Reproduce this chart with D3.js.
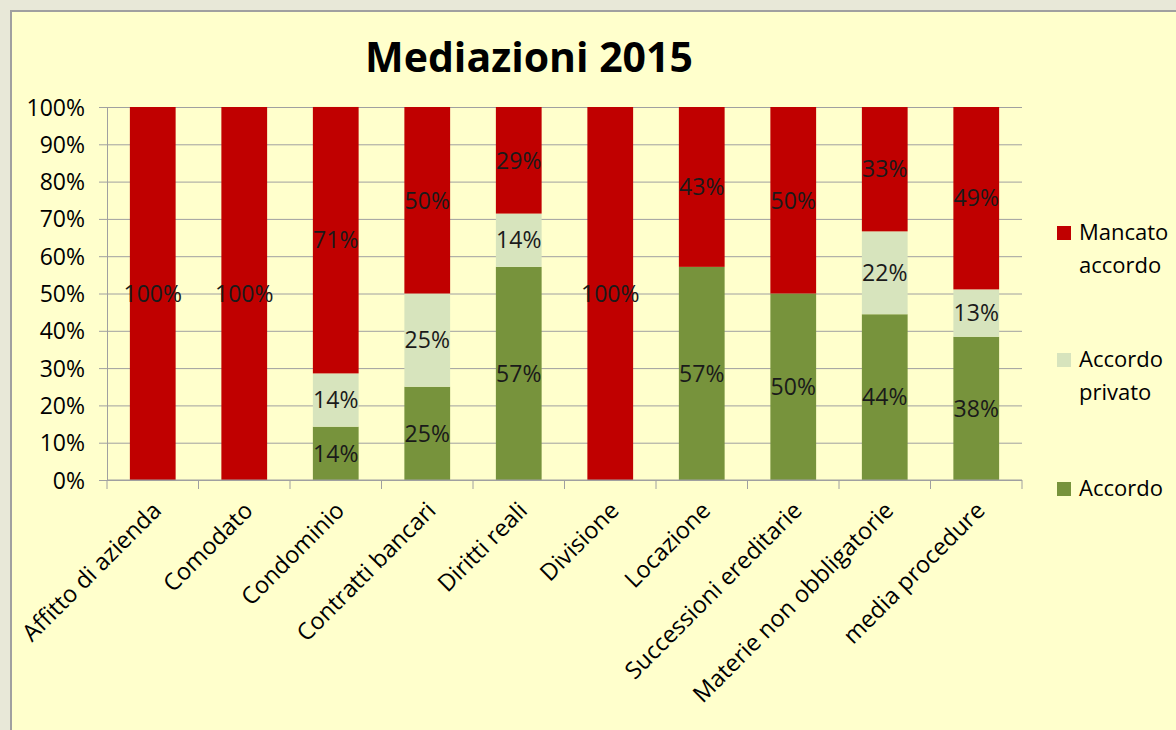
<!DOCTYPE html>
<html>
<head>
<meta charset="utf-8">
<script src="https://d3js.org/d3.v7.min.js"></script>
<style>
  body { margin: 0; background: #e8e8d8; }
  svg text { font-family: "Open Sans", sans-serif; fill: #000; }
</style>
</head>
<body>
<script>
// categories and series values (percent of procedures)
var categories = ["Affitto di azienda", "Comodato", "Condominio", "Contratti bancari", "Diritti reali",
                  "Divisione", "Locazione", "Successioni ereditarie", "Materie non obbligatorie", "media procedure"];
var accordo = [0, 0, 14.29, 25, 57.14, 0, 57.14, 50, 44.44, 38.4];
var accordoPrivato = [0, 0, 14.29, 25, 14.29, 0, 0, 0, 22.22, 12.7];
var mancatoAccordo = [100, 100, 71.43, 50, 28.57, 100, 42.86, 50, 33.33, 48.9];
var seriesNames = ["Accordo", "Accordo privato", "Mancato accordo"];
var colors = ["#77933c", "#d7e4bd", "#c00000"];
var yTicks = [0, 10, 20, 30, 40, 50, 60, 70, 80, 90, 100];

var W = 1176, H = 730;
var margin = {top: 107, right: 154, bottom: 250, left: 107};
var width = W - margin.left - margin.right,
    height = H - margin.top - margin.bottom;

var svg = d3.select("body").append("svg")
    .attr("width", W).attr("height", H);

// chart area
svg.append("rect")
    .attr("x", 11).attr("y", 11)
    .attr("width", W + 20).attr("height", H + 20)
    .attr("fill", "#ffffcc")
    .attr("stroke", "#a0a0a0")
    .attr("stroke-width", 2);

svg.append("text")
    .attr("x", 529).attr("y", 72)
    .attr("text-anchor", "middle")
    .style("font-size", "41px")
    .style("font-weight", "bold")
    .text("Mediazioni 2015");

var g = svg.append("g")
    .attr("transform", "translate(" + margin.left + "," + margin.top + ")");

var x = d3.scaleBand().domain(categories).range([0, width]).paddingInner(0.5).paddingOuter(0.25);
var xb = d3.scaleBand().domain(categories).range([0, width]);
var y = d3.scaleLinear().domain([0, 100]).range([height, 0]);

// gridlines
g.append("g")
    .call(d3.axisLeft(y).tickValues(yTicks).tickSize(-width).tickFormat(""))
    .call(function(s) {
        s.select(".domain").remove();
        s.selectAll("line").attr("stroke", "#a0a0a0");
    });

// y axis
g.append("g")
    .call(d3.axisLeft(y).tickValues(yTicks).tickSize(8).tickPadding(14)
        .tickFormat(function(d) { return d + "%"; }))
    .call(function(s) {
        s.select(".domain").attr("stroke", "#a0a0a0");
        s.selectAll("line").attr("stroke", "#a0a0a0");
        s.selectAll("text").style("font-size", "23px").attr("dy", "0.35em");
    });

// stacked bars
var rows = categories.map(function(c, i) {
    return {cat: c, Accordo: accordo[i], "Accordo privato": accordoPrivato[i], "Mancato accordo": mancatoAccordo[i]};
});
var stack = d3.stack().keys(seriesNames)(rows);

var layer = g.selectAll(".layer")
    .data(stack)
    .enter().append("g")
    .attr("fill", function(d, i) { return colors[i]; });

layer.selectAll("rect")
    .data(function(d) { return d; })
    .enter().append("rect")
    .attr("x", function(d) { return x(d.data.cat); })
    .attr("width", x.bandwidth())
    .attr("y", function(d) { return y(d[1]); })
    .attr("height", function(d) { return y(d[0]) - y(d[1]); });

// value labels
layer.selectAll("text")
    .data(function(d) { return d.filter(function(p) { return p[1] - p[0] > 0; }); })
    .enter().append("text")
    .attr("x", function(d) { return x(d.data.cat) + x.bandwidth() / 2; })
    .attr("y", function(d) { return y((d[0] + d[1]) / 2); })
    .attr("dy", "0.36em")
    .attr("text-anchor", "middle")
    .style("font-size", "23px")
    .style("fill", "#1a1a1a")
    .text(function(d) { return Math.round(d[1] - d[0]) + "%"; });

// x axis
var xAxis = g.append("g")
    .attr("transform", "translate(0," + height + ")");
xAxis.append("line")
    .attr("x1", 0).attr("x2", width)
    .attr("stroke", "#a0a0a0");
xAxis.selectAll(".tk")
    .data(categories.concat([null]))
    .enter().append("line")
    .attr("x1", function(d, i) { return i * xb.bandwidth(); })
    .attr("x2", function(d, i) { return i * xb.bandwidth(); })
    .attr("y1", 0).attr("y2", 9)
    .attr("stroke", "#a0a0a0");
xAxis.selectAll(".lbl")
    .data(categories)
    .enter().append("text")
    .attr("transform", function(d) {
        return "translate(" + (xb(d) + xb.bandwidth() / 2 + 10) + ",32) rotate(-45)";
    })
    .attr("text-anchor", "end")
    .style("font-size", "23.5px")
    .text(function(d) { return d; });

// legend
var legendY = [233, 360, 489];
var legendLines = [["Mancato", "accordo"], ["Accordo", "privato"], ["Accordo"]];
var legendColors = [colors[2], colors[1], colors[0]];
var leg = svg.selectAll(".leg")
    .data(legendLines)
    .enter().append("g")
    .attr("transform", function(d, i) { return "translate(1057," + legendY[i] + ")"; });
leg.append("rect")
    .attr("x", 0).attr("y", -7)
    .attr("width", 14).attr("height", 14)
    .attr("fill", function(d, i) { return legendColors[i]; });
leg.append("text")
    .attr("x", 22)
    .style("font-size", "22px")
    .selectAll("tspan")
    .data(function(d) { return d; })
    .enter().append("tspan")
    .attr("x", 22)
    .attr("y", function(d, i) { return 7 + i * 33; })
    .text(function(d) { return d; });
</script>
</body>
</html>
